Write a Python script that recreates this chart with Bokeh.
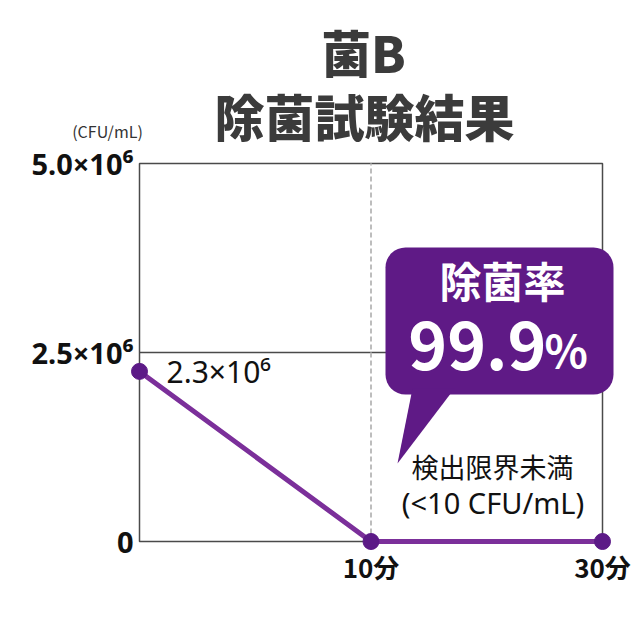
from bokeh.plotting import figure
from bokeh.models import Range1d, Label, FixedTicker
from bokeh.embed import file_html
from bokeh.resources import INLINE

FONT = "Noto Sans CJK JP"
FONT_HEAVY = "Noto Sans CJK JP Black, Noto Sans CJK JP"
FONT_LATIN = "Noto Sans"

# ---- data ----
time_pos = [0, 1, 2]
time_labels = ["0分", "10分", "30分"]
cfu_values = [2.25e6, 0.0, 0.0]
y_ticks = [0.0, 2.5e6, 5.0e6]
y_tick_labels = ["0", "2.5×10⁶", "5.0×10⁶"]
x_ticks = [1, 2]
start_label = "2.3×10⁶"
rate_value = "99.9"
title_lines = ["菌B", "除菌試験結果"]
unit_label = "(CFU/mL)"
rate_title = "除菌率"
limit_lines = ["検出限界未満", "(<10 CFU/mL)"]

# ---- pixel <-> data helpers (layout only) ----
PX_X0, PX_PER_X = 139.0, 231.5
PX_Y0, PX_PER_Y = 541.0, 378.0 / 5.0e6


def dx(px):
    return (px - PX_X0) / PX_PER_X


def dy(py):
    return (PX_Y0 - py) / PX_PER_Y


FR_L, FR_R, FR_T, FR_B = 60, 625, 0, 552
W, H = 632, 616

p = figure(width=W, height=H, output_backend="svg", toolbar_location=None,
           x_range=Range1d(dx(FR_L), dx(FR_R)), y_range=Range1d(dy(FR_B), dy(FR_T)),
           min_border_left=FR_L, min_border_right=W - FR_R, min_border_top=FR_T,
           min_border_bottom=H - FR_B)
p.outline_line_color = None
p.grid.visible = False
p.background_fill_color = "white"

# axes
p.xaxis.ticker = FixedTicker(ticks=x_ticks)
p.xaxis.major_label_overrides = {i: time_labels[i] for i in x_ticks}
p.yaxis.ticker = FixedTicker(ticks=y_ticks)
p.yaxis.major_label_overrides = {t: l for t, l in zip(y_ticks, y_tick_labels)}
for ax in (p.xaxis, p.yaxis):
    ax.axis_line_color = None
    ax.major_tick_line_color = None
    ax.minor_tick_line_color = None
    ax.major_tick_out = 0
    ax.major_tick_in = 0
    ax.minor_tick_out = 0
    ax.major_label_text_font_style = "bold"
    ax.major_label_text_color = "#111111"
p.xaxis.major_label_text_font = FONT
p.yaxis.major_label_text_font = FONT_LATIN
p.xaxis.major_label_text_font_size = "26px"
p.yaxis.major_label_text_font_size = "29px"
p.xaxis.major_label_standoff = -5
p.yaxis.major_label_standoff = -(133 - FR_L)

# plot box and reference lines
p.quad(left=[time_pos[0]], right=[time_pos[-1]], bottom=[y_ticks[0]], top=[y_ticks[-1]],
       fill_color=None, line_color="#4a4a4a", line_width=1.5)
p.segment(x0=[time_pos[0]], x1=[time_pos[-1]], y0=[y_ticks[1]], y1=[y_ticks[1]],
          line_color="#4a4a4a", line_width=1.5)
p.segment(x0=[time_pos[1]], x1=[time_pos[1]], y0=[y_ticks[0]], y1=[y_ticks[-1]],
          line_color="#bdbdbd", line_width=2, line_dash="5 3")

# data
p.line(time_pos, cfu_values, line_color="#7b2f9a", line_width=5)
p.scatter(time_pos, cfu_values, size=16, fill_color="#5c1a87", line_color="#5c1a87")

# callout bubble
PURPLE = "#5f1a86"
p.quad(left=[dx(385)], right=[dx(613)], top=[dy(247)], bottom=[dy(394)],
       fill_color=PURPLE, line_color=None, border_radius=20)
p.patch(x=[dx(412), dx(454), dx(397)], y=[dy(388), dy(388), dy(463)],
        fill_color=PURPLE, line_color=None)


def lab(text, px, py, size, color="#111111", style="normal", align="center",
        baseline="middle", font=FONT):
    p.add_layout(Label(x=dx(px), y=dy(py), text=text, text_font=font,
                       text_font_size=size, text_font_style=style,
                       text_color=color, text_align=align, text_baseline=baseline))


# titles
lab(title_lines[0], 363, 50, "50px", "#3b3b3b", "bold", font=FONT_HEAVY)
lab(title_lines[1], 364, 114, "50px", "#3b3b3b", "bold", font=FONT_HEAVY)
lab(unit_label, 107, 130, "16px", "#333333")

# start value label
p.add_layout(Label(x=time_pos[0], y=cfu_values[0], x_offset=27, y_offset=0,
                   text=start_label, text_font=FONT_LATIN, text_font_size="30px",
                   text_color="#111111", text_align="left", text_baseline="middle"))

# callout texts
lab(rate_title, 502, 279, "42px", "white", "bold")
lab(rate_value, 546, 345, "66px", "white", "bold", align="right")
lab("%", 544, 348, "45px", "white", "bold", align="left")
lab(limit_lines[0], 492, 466, "27px")
lab(limit_lines[1], 492.5, 502, "29px", font=FONT_LATIN)

open("out.html", "w").write(file_html(p, INLINE))
